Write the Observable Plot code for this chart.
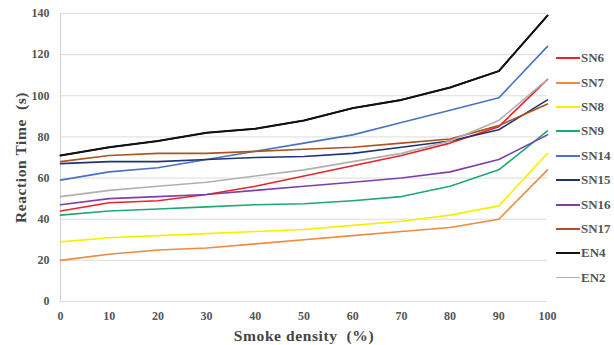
<!DOCTYPE html>
<html>
<head>
<meta charset="utf-8">
<script src="https://cdn.jsdelivr.net/npm/d3@7"></script>
<script src="https://cdn.jsdelivr.net/npm/@observablehq/plot@0.6"></script>
<style>
  html, body { margin: 0; padding: 0; background: #fff; }
  #wrap { position: relative; width: 614px; height: 345px; }
  #legend { position: absolute; left: 556px; top: 46px; font-family: "Liberation Serif", serif; font-size: 13px; font-weight: bold; color: #555; }
  .item { display: flex; align-items: center; height: 24.4px; }
  .sw { width: 24px; height: 2px; margin-right: 1px; }
</style>
</head>
<body>
<div id="wrap"><div id="legend"></div></div>
<script>
const density = [0, 10, 20, 30, 40, 50, 60, 70, 80, 90, 100];
const seriesNames = ["SN6", "SN7", "SN8", "SN9", "SN14", "SN15", "SN16", "SN17", "EN4", "EN2"];
const seriesColors = ["#e8232b", "#ef8a3e", "#f4f000", "#1caa70", "#4a72c4", "#1f3470", "#7f3fa8", "#b0521c", "#111111", "#b0b0b0"];
const SN6  = [44, 48, 49, 52, 56, 61, 66, 71, 77, 85, 108];
const SN7  = [20, 23, 25, 26, 28, 30, 32, 34, 36, 40, 64];
const SN8  = [29, 31, 32, 33, 34, 35, 37, 39, 42, 46.5, 72];
const SN9  = [42, 44, 45, 46, 47, 47.5, 49, 51, 56, 64, 83];
const SN14 = [59, 63, 65, 69, 73, 77, 81, 87, 93, 99, 124];
const SN15 = [67, 68, 68, 69, 70, 70.5, 72, 75, 78, 83.5, 98];
const SN16 = [47, 50, 51, 52, 54, 56, 58, 60, 63, 69, 81];
const SN17 = [68, 71, 72, 72, 73, 74, 75, 77, 79, 85.5, 96];
const EN4  = [71, 75, 78, 82, 84, 88, 94, 98, 104, 112, 139];
const EN2  = [51, 54, 56, 58, 61, 64, 68, 72, 78, 88, 108];
const yTicks = [0, 20, 40, 60, 80, 100, 120, 140];
const xTicks = [0, 10, 20, 30, 40, 50, 60, 70, 80, 90, 100];

const values = [SN6, SN7, SN8, SN9, SN14, SN15, SN16, SN17, EN4, EN2];
const rows = [];
seriesNames.forEach((name, i) => {
  density.forEach((d, j) => rows.push({series: name, x: d, y: values[i][j]}));
});

const chart = Plot.plot({
  width: 614,
  height: 345,
  marginLeft: 60,
  marginRight: 67,
  marginTop: 13,
  marginBottom: 44,
  style: {fontFamily: "Liberation Serif, serif", fontSize: "12px", color: "#555", background: "#fff"},
  x: {domain: [0, 100]},
  y: {domain: [0, 140]},
  color: {domain: seriesNames, range: seriesColors},
  marks: [
    Plot.gridY(yTicks, {stroke: "#dcdcdc", strokeOpacity: 1}),
    Plot.ruleX([0], {stroke: "#d0d0d0"}),
    Plot.axisY(yTicks, {tickSize: 0, tickPadding: 11, fontWeight: "bold", label: "Reaction Time  (s)", labelAnchor: "center", labelArrow: "none", labelOffset: 46}),
    Plot.axisX(xTicks, {tickSize: 0, tickPadding: 10, fontWeight: "bold", label: "Smoke density  (%)", labelAnchor: "center", labelArrow: "none", labelOffset: 39}),
    Plot.line(rows, {x: "x", y: "y", z: "series", stroke: "series", strokeWidth: 1.6}),
    Plot.line(rows.filter(r => r.series === "EN4"), {x: "x", y: "y", stroke: "#111", strokeWidth: 2})
  ]
});
document.getElementById("wrap").prepend(chart);

// style axis labels
chart.querySelectorAll("[aria-label='y-axis label'] text, [aria-label='x-axis label'] text").forEach(t => {
  t.setAttribute("font-size", "15.5px");
  t.setAttribute("font-weight", "bold");
  t.setAttribute("letter-spacing", "0.6px");
  t.setAttribute("fill", "#444");
});

const legend = document.getElementById("legend");
seriesNames.forEach((n, i) => {
  const it = document.createElement("div");
  it.className = "item";
  const sw = document.createElement("div");
  sw.className = "sw";
  sw.style.background = seriesColors[i];
  if (n === "EN2") sw.style.height = "1px";
  const tx = document.createElement("span");
  tx.textContent = n;
  it.appendChild(sw); it.appendChild(tx);
  legend.appendChild(it);
});
</script>
</body>
</html>
